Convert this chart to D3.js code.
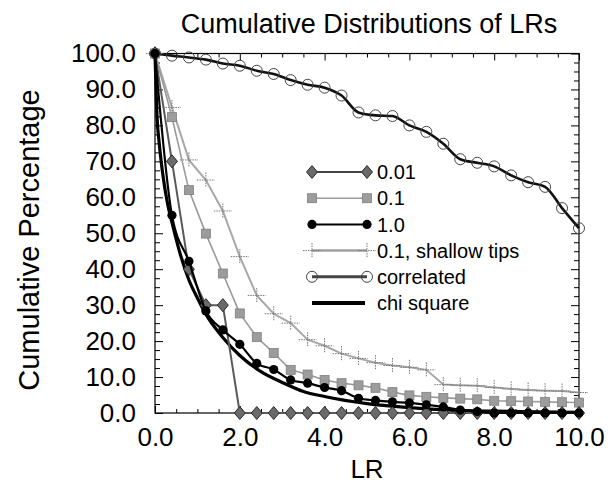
<!DOCTYPE html>
<html>
<head>
<meta charset="utf-8">
<script src="https://cdn.jsdelivr.net/npm/d3@7"></script>
<style>
  html, body { margin: 0; padding: 0; background: #fff; }
  svg { display: block; }
  text { font-family: "Liberation Sans", Arial, Helvetica, sans-serif; fill: #000; }
</style>
</head>
<body>
<svg id="chart" width="608" height="485"></svg>
<script>
// ---------------- data ----------------
const lr = [0.0,0.4,0.8,1.2,1.6,2.0,2.4,2.8,3.2,3.6,4.0,4.4,4.8,5.2,5.6,6.0,6.4,6.8,7.2,7.6,8.0,8.4,8.8,9.2,9.6,10.0];
const s001 = [100,70,40,30,30,0,0,0,0,0,0,0,0,0,0,0,0,0,0,0,0,0,0,0,0,0];
const s01 = [100,82.3,62,49.9,38.8,27.7,21.1,16.7,12,10.7,9.2,8.3,7.7,7.0,5.8,4.9,4.5,4.2,4.0,3.8,3.4,3.3,3.2,3.1,3.0,2.9];
const s10 = [100,55,42.2,28.4,23.1,19.1,13.8,12.1,9.2,8.3,7.1,6.2,4.1,3.5,3.1,2.8,2.3,1.7,0.8,0.4,0,0,0,0,0,0];
const sShallow = [100,85,70.4,64.8,56.2,43.5,32.7,27.6,25.0,20.4,18.7,16.5,15.2,14.0,13.2,12.7,12.0,7.9,7.7,7.6,7.1,6.7,6.4,6.2,6.1,5.7];
const sCorrelated = [100,99.4,98.9,98.3,97.2,96.6,95.2,94.3,92.6,91.3,90.5,88.3,83.6,82.8,82.6,80.0,78.2,74.9,70.6,69.6,68.6,66.1,64.2,62.9,57.0,51.4];
const chiX = [0,0.05,0.1,0.2,0.3,0.4,0.6,0.8,1.0,1.2,1.6,2.0,2.5,3.0,3.5,4.0,5.0,6.0,7.0,8.0,9.0,10.0];
const chiY = [100,82,75,65,58,53,44,37,32,27.5,21,16,11.5,8.5,6,4.6,2.6,1.5,0.8,0.5,0.3,0.2];
const xTicks = [0,2,4,6,8,10];
const yTicks = [0,10,20,30,40,50,60,70,80,90,100];
const legendLabels = ["0.01","0.1","1.0","0.1, shallow tips","correlated","chi square"];
const titleText = "Cumulative Distributions of LRs";
const xTitle = "LR";
const yTitle = "Cumulative Percentage";

// ---------------- layout ----------------
const L = 155, R = 579, T = 53.5, B = 413;
const svg = d3.select("#chart");
const x = d3.scaleLinear().domain([0,10]).range([L,R]);
const y = d3.scaleLinear().domain([0,100]).range([B,T]);
const fmt = d3.format(".1f");
const FONT = 26;

// title
svg.append("text").attr("x", 369).attr("y", 33).attr("text-anchor","middle")
  .style("font-size","27px").text(titleText);
// axis titles
svg.append("text").attr("x", (L+R)/2).attr("y", 478).attr("text-anchor","middle")
  .style("font-size","26px").text(xTitle);
svg.append("text").attr("transform","translate(39,240) rotate(-90)").attr("text-anchor","middle")
  .style("font-size","29px").text(yTitle);

// axes
function styleAxis(g){ g.select(".domain").remove(); g.selectAll("line").attr("stroke","#000"); g.selectAll("text").style("font-size", FONT+"px").style("font-family",'"Liberation Sans", Arial, Helvetica, sans-serif'); }
const minorX = d3.range(0, 10.001, 0.5).filter(v => Math.abs(v % 2) > 1e-6);
const minorY = d3.range(0, 100.001, 2.5).filter(v => Math.abs(v % 10) > 1e-6);

svg.append("g").attr("transform",`translate(0,${B})`)
  .call(d3.axisBottom(x).tickValues(xTicks).tickSize(-7).tickPadding(15).tickFormat(fmt)).call(styleAxis);
svg.append("g").attr("transform",`translate(0,${B})`)
  .call(d3.axisBottom(x).tickValues(minorX).tickSize(-4).tickFormat("")).call(styleAxis);
svg.append("g").attr("transform",`translate(0,${T})`)
  .call(d3.axisTop(x).tickValues(xTicks).tickSize(-7).tickFormat("")).call(styleAxis);
svg.append("g").attr("transform",`translate(0,${T})`)
  .call(d3.axisTop(x).tickValues(minorX).tickSize(-4).tickFormat("")).call(styleAxis);

svg.append("g").attr("transform",`translate(${L},0)`)
  .call(d3.axisLeft(y).tickValues(yTicks).tickSize(-8).tickPadding(19).tickFormat(fmt)).call(styleAxis);
svg.append("g").attr("transform",`translate(${L},0)`)
  .call(d3.axisLeft(y).tickValues(minorY).tickSize(-5).tickFormat("")).call(styleAxis);
svg.append("g").attr("transform",`translate(${R},0)`)
  .call(d3.axisRight(y).tickValues(yTicks).tickSize(-8).tickFormat("")).call(styleAxis);
svg.append("g").attr("transform",`translate(${R},0)`)
  .call(d3.axisRight(y).tickValues(minorY).tickSize(-5).tickFormat("")).call(styleAxis);

// frame
svg.append("rect").attr("x",L).attr("y",T).attr("width",R-L).attr("height",B-T)
  .attr("fill","none").attr("stroke","#000").attr("stroke-width",1.2);

// ---------------- markers ----------------
function diamond(g, cx, cy){ g.append("path").attr("d",`M${cx},${cy-6.5}L${cx+5.5},${cy}L${cx},${cy+6.5}L${cx-5.5},${cy}Z`).attr("fill","#6a6a6a").attr("stroke","#2a2a2a").attr("stroke-width",1); }
function square(g, cx, cy){ g.append("rect").attr("x",cx-4.5).attr("y",cy-4.5).attr("width",9).attr("height",9).attr("fill","#9c9c9c").attr("stroke","#808080").attr("stroke-width",0.8); }
function dot(g, cx, cy){ g.append("circle").attr("cx",cx).attr("cy",cy).attr("r",4.6).attr("fill","#000"); }
function cross(g, cx, cy){
  g.append("line").attr("x1",cx-9).attr("x2",cx+9).attr("y1",cy).attr("y2",cy).attr("stroke","#777").attr("stroke-width",1).attr("stroke-dasharray","1.5,1");
  g.append("line").attr("x1",cx).attr("x2",cx).attr("y1",cy-7.5).attr("y2",cy+7.5).attr("stroke","#777").attr("stroke-width",1).attr("stroke-dasharray","1.5,1");
}
function ring(g, cx, cy){ g.append("circle").attr("cx",cx).attr("cy",cy).attr("r",5.5).attr("fill","none").attr("stroke","#444").attr("stroke-width",1); }

const series = [
  {vals: sCorrelated, color:"#111", width:2.6, curve:d3.curveMonotoneX, mark:ring, legendColor:"#444", legendWidth:3},
  {vals: sShallow, color:"#a8a8a8", width:2, curve:d3.curveLinear, mark:cross, legendColor:"#a0a0a0", legendWidth:2.5},
  {vals: s01, color:"#9a9a9a", width:1.6, curve:d3.curveLinear, mark:square, legendColor:"#9a9a9a", legendWidth:1.6},
  {vals: s001, color:"#5a5a5a", width:2, curve:d3.curveLinear, mark:diamond, legendColor:"#444", legendWidth:2},
  {vals: s10, color:"#000", width:2.2, curve:d3.curveMonotoneX, mark:dot, legendColor:"#000", legendWidth:2},
];
const plot = svg.append("g");

// chi square curve
plot.append("path").datum(chiX.map((v,i)=>[v,chiY[i]]))
  .attr("d", d3.line().x(d=>x(d[0])).y(d=>y(d[1])).curve(d3.curveMonotoneX))
  .attr("fill","none").attr("stroke","#000").attr("stroke-width",3.2);

series.forEach(s => {
  const pts = lr.map((v,i)=>[v, s.vals[i]]);
  plot.append("path").datum(pts)
    .attr("d", d3.line().x(d=>x(d[0])).y(d=>y(d[1])).curve(s.curve))
    .attr("fill","none").attr("stroke",s.color).attr("stroke-width",s.width);
  const mg = plot.append("g");
  pts.forEach(d => s.mark(mg, x(d[0]), y(d[1])));
});

// ---------------- legend ----------------
const legendOrder = [3,2,4,1,0,-1];
const lg = svg.append("g");
const lx1 = 312, lx2 = 367, ly0 = 172, lstep = 26.2;
legendLabels.forEach((lab, i) => {
  const yy = ly0 + i*lstep;
  const si = legendOrder[i];
  if (si >= 0) {
    const s = series[si];
    lg.append("line").attr("x1",lx1).attr("x2",lx2).attr("y1",yy).attr("y2",yy)
      .attr("stroke",s.legendColor).attr("stroke-width",s.legendWidth);
    s.mark(lg, lx1, yy); s.mark(lg, lx2, yy);
  } else {
    lg.append("line").attr("x1",lx1).attr("x2",lx2-2).attr("y1",yy).attr("y2",yy)
      .attr("stroke","#000").attr("stroke-width",4);
  }
  lg.append("text").attr("x",377).attr("y",yy).attr("dy","0.36em")
    .style("font-size","20px").text(lab);
});
</script>
</body>
</html>
